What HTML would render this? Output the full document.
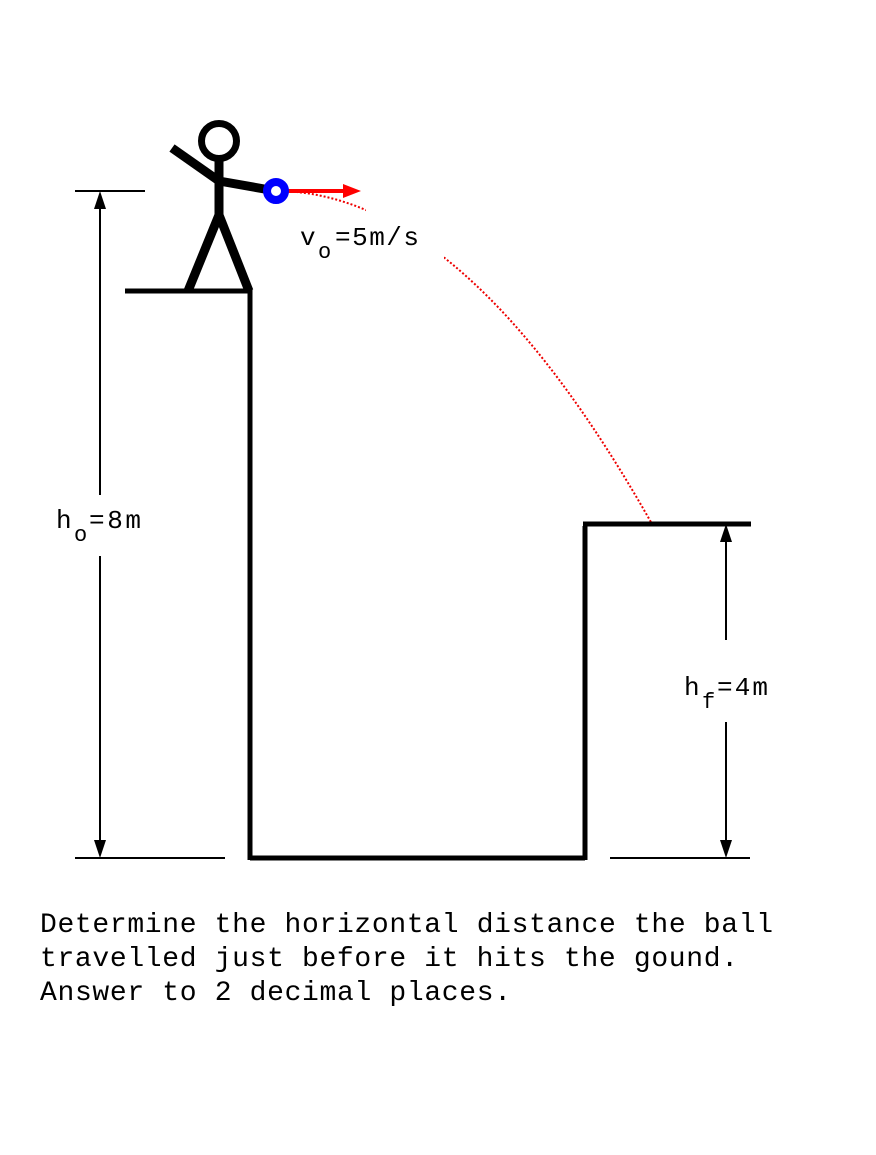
<!DOCTYPE html>
<html><head><meta charset="utf-8"><style>
html,body{margin:0;padding:0;background:#fff;width:876px;height:1155px;overflow:hidden}
svg{display:block}
text{font-family:"Liberation Mono","DejaVu Sans Mono",monospace;fill:#000}
</style></head><body>
<svg width="876" height="1155" viewBox="0 0 876 1155" xmlns="http://www.w3.org/2000/svg">
<!-- trajectory -->
<path d="M276,191 Q464,191 652,524" fill="none" stroke="#e00" stroke-width="2" stroke-dasharray="2,2"/>
<rect x="366" y="205" width="78" height="60" fill="#fff"/>
<!-- structure -->
<g stroke="#000" stroke-width="5" fill="none" stroke-linecap="butt">
<line x1="125" y1="291" x2="252" y2="291"/>
<line x1="250" y1="289" x2="250" y2="860"/>
<line x1="250" y1="858" x2="585" y2="858"/>
<line x1="585" y1="526" x2="585" y2="860"/>
<line x1="583" y1="524" x2="751" y2="524"/>
</g>
<!-- dimension lines -->
<g stroke="#000" stroke-width="2" fill="none">
<line x1="75" y1="191" x2="145" y2="191"/>
<line x1="75" y1="858" x2="225" y2="858"/>
<line x1="610" y1="858" x2="750" y2="858"/>
<line x1="100" y1="495" x2="100" y2="205"/>
<line x1="100" y1="556" x2="100" y2="845"/>
<line x1="726" y1="640" x2="726" y2="538"/>
<line x1="726" y1="722" x2="726" y2="845"/>
</g>
<g fill="#000">
<path d="M100,191 L106,209 L94,209 z"/>
<path d="M100,858 L106,840 L94,840 z"/>
<path d="M726,524 L732,542 L720,542 z"/>
<path d="M726,858 L732,840 L720,840 z"/>
</g>
<!-- stick figure -->
<g stroke="#000" stroke-width="9" fill="none" stroke-linecap="butt">
<circle cx="219" cy="141" r="17.5" stroke-width="7"/>
<line x1="219" y1="158" x2="219" y2="217"/>
<line x1="172" y1="148" x2="219" y2="181"/>
<line x1="219" y1="181" x2="270" y2="190"/>
<line x1="219" y1="215" x2="188" y2="291"/>
<line x1="219" y1="215" x2="249" y2="291"/>
</g>
<line x1="278" y1="191" x2="345" y2="191" stroke="#f00" stroke-width="4"/>
<path d="M343,184 L361,191 L343,198 z" fill="#f00"/>
<circle cx="276" cy="191" r="9" fill="#fff" stroke="#00f" stroke-width="8"/>
<!-- labels -->
<text x="300" y="245" font-size="26">v</text>
<text x="318" y="258" font-size="22">o</text>
<text x="335" y="245" font-size="26" textLength="84">=5m/s</text>
<text x="56" y="528" font-size="26">h</text>
<text x="74" y="541" font-size="22">o</text>
<text x="89" y="528" font-size="26" textLength="52">=8m</text>
<text x="684" y="695" font-size="26">h</text>
<text x="702" y="708" font-size="22">f</text>
<text x="717" y="695" font-size="26" textLength="51">=4m</text>
<text x="40" y="932" font-size="28" textLength="733">Determine the horizontal distance the ball</text>
<text x="40" y="966" font-size="28" textLength="698">travelled just before it hits the gound.</text>
<text x="40" y="1000" font-size="28" textLength="471">Answer to 2 decimal places.</text>
</svg>
</body></html>
